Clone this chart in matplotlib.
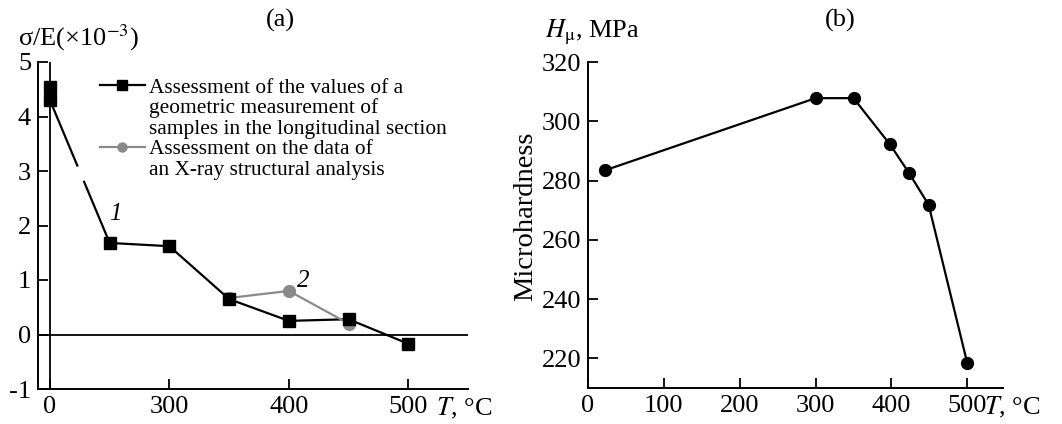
import numpy as np
import matplotlib
matplotlib.use("Agg")
import matplotlib.pyplot as plt
from matplotlib.lines import Line2D

# Dati
# (a) tensioni residue
temp_1 = np.array([0, 0, 250, 300, 350, 400, 450, 500])
sigma_1 = np.array([4.55, 4.30, 1.68, 1.62, 0.65, 0.25, 0.28, -0.17])
temp_2 = np.array([350, 400, 450])
sigma_2 = np.array([0.67, 0.80, 0.20])
gap_y = [3.1, 2.8]           # interruzione del primo tratto
a_ticks = [0, 300, 400, 500]
a_yticks = [-1, 0, 1, 2, 3, 4, 5]

# (b) microdurezza
temp_b = np.array([23, 300, 350, 398, 423, 449, 500])
hmu_b = np.array([283.5, 307.8, 307.8, 292.2, 282.6, 271.8, 218.3])
b_ticks = [0, 100, 200, 300, 400, 500]
b_yticks = [220, 240, 260, 280, 300, 320]

label_1 = ["Assessment of the values of a", "geometric measurement of",
           "samples in the longitudinal section"]
label_2 = ["Assessment on the data of", "an X-ray structural analysis"]

plt.rcParams['font.family'] = ['Liberation Serif', 'DejaVu Serif']
plt.rcParams['mathtext.fontset'] = 'stix'

ZERO_POS = 200  # lo 0 e' disegnato in posizione 200 (asse interrotto)
FS = 19


def xpos(t):
    return np.where(np.asarray(t) == 0, ZERO_POS, t)


fig = plt.figure(figsize=(10.62, 4.24), dpi=100)
W, H = 1062, 424

# ---------------- (a) ----------------
ax = fig.add_axes([38 / W, (H - 389) / H, 430 / W, 327 / H])
x1 = xpos(temp_1)
lw = 1.6
ax.axvline(ZERO_POS, color="black", lw=1.3, zorder=1)
ax.axhline(0, color="black", lw=1.3, zorder=1)

# primo tratto verticale a T=0
ax.plot(x1[:2], sigma_1[:2], color="black", lw=lw)
# tratto interrotto tra 0 e 250
xa, ya, xb, yb = x1[1], sigma_1[1], x1[2], sigma_1[2]
xg = [xa + (ya - g) / (ya - yb) * (xb - xa) for g in gap_y]
ax.plot([xa, xg[0]], [ya, gap_y[0]], color="black", lw=lw)
ax.plot([xg[1], xb], [gap_y[1], yb], color="black", lw=lw)
ax.plot(x1[2:], sigma_1[2:], color="black", lw=lw)
ax.plot(temp_2, sigma_2, color="#8a8a8a", lw=lw, marker="o", ms=8.5, zorder=3)
ax.plot(x1, sigma_1, ls="none", marker="s", ms=8.5, color="black", zorder=4)

ax.set_xlim(190, 550)
ax.set_ylim(-1, 5)
ax.set_xticks(xpos(a_ticks))
ax.set_xticklabels([str(t) for t in a_ticks])
ax.set_yticks(a_yticks)
ax.set_yticklabels([str(t) for t in a_yticks])
ax.text(255, 2.0, "1", fontsize=18, style="italic", ha="center", va="bottom")
ax.text(412, 0.98, "2", fontsize=18, style="italic", ha="center", va="center")

ax.text((436 - 38) / 430, -19 / 327, "$T$, °C", transform=ax.transAxes,
        fontsize=FS, ha="left", va="center")

handles = [Line2D([], [], color="black", lw=lw, marker="s", ms=7),
           Line2D([], [], ls="none"), Line2D([], [], ls="none"),
           Line2D([], [], color="#8a8a8a", lw=lw, marker="o", ms=6.5),
           Line2D([], [], ls="none")]
labels = label_1 + label_2
ax.legend(handles, labels, loc="upper left",
          bbox_to_anchor=((100 - 38) / 430, (389 - 78) / 327),
          frameon=False, fontsize=15.4, handlelength=2.1, handletextpad=0.2,
          labelspacing=0.02, borderpad=0, borderaxespad=0)

# ---------------- (b) ----------------
bx = fig.add_axes([588 / W, (H - 388) / H, 415 / W, 326 / H])
bx.plot(temp_b, hmu_b, color="black", lw=lw, marker="o", ms=8.5)
bx.set_xlim(0, 547)
bx.set_ylim(210, 320)
bx.set_xticks(b_ticks)
bx.set_yticks(b_yticks)
bx.set_ylabel("Microhardness", fontsize=20.5)
bx.yaxis.set_label_coords((538 - 588) / 415, (388 - 216) / 326)
bx.text((984 - 588) / 415, -19 / 326, "$T$, °C", transform=bx.transAxes,
        fontsize=FS, ha="left", va="center")

for a in (ax, bx):
    a.spines["top"].set_visible(False)
    a.spines["right"].set_visible(False)
    for s in ("left", "bottom"):
        a.spines[s].set_linewidth(1.4)
    a.tick_params(direction="in", length=7, width=1.3, labelsize=FS, pad=5)

fig.text(280 / W, 1 - 20 / H, "(a)", fontsize=FS, ha="center", va="center")
fig.text(840 / W, 1 - 20 / H, "(b)", fontsize=FS, ha="center", va="center")
fig.text(18 / W, 1 - 38 / H, r"σ/E(×10$^{-3}$)", fontsize=FS,
         ha="left", va="center")
fig.text(545 / W, 1 - 32 / H, r"$H_{\mathrm{\mu}}$, MPa", fontsize=FS,
         ha="left", va="center")

fig.savefig("out.png", dpi=100)
